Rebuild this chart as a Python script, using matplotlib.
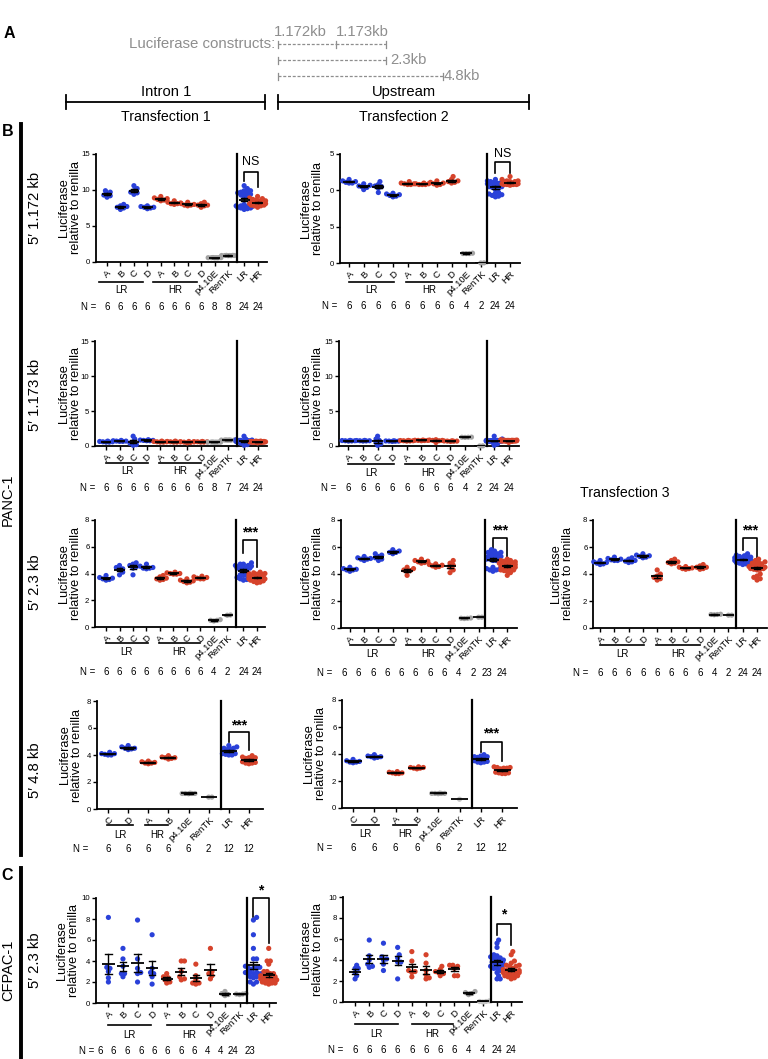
import numpy as np
import matplotlib
matplotlib.use("Agg")
import matplotlib.pyplot as plt
from matplotlib.lines import Line2D

plt.rcParams['font.family'] = ['Liberation Sans', 'DejaVu Sans']

# ------------------------------------------------------------------ data
cats12 = ['A', 'B', 'C', 'D', 'A', 'B', 'C', 'D', 'p4.10E', 'RenTK', 'LR', 'HR']
cats8 = ['C', 'D', 'A', 'B', 'p4.10E', 'RenTK', 'LR', 'HR']

# PANC-1 5' 1.172 kb, transfection 1
t1_1172_lr = [[9.9, 9.7, 9.5, 9.3, 9.2, 9.0], [8.0, 7.8, 7.7, 7.6, 7.5, 7.3],
              [10.6, 10.2, 9.9, 9.7, 9.6, 9.4], [7.8, 7.7, 7.6, 7.6, 7.5, 7.4]]
t1_1172_hr = [[9.1, 8.9, 8.8, 8.7, 8.6, 8.5], [8.5, 8.3, 8.2, 8.1, 8.1, 8.0],
              [8.3, 8.1, 8.0, 7.9, 7.9, 7.8], [8.3, 8.1, 7.9, 7.9, 7.8, 7.6]]
t1_1172_p4 = [0.62, 0.6, 0.6, 0.58, 0.6, 0.62, 0.58, 0.6]
t1_1172_ren = [0.92, 0.9, 0.88, 0.9, 0.9, 0.92, 0.88, 0.9]
t1_1172_n = ['6', '6', '6', '6', '6', '6', '6', '6', '8', '8', '24', '24']

# PANC-1 5' 1.172 kb, transfection 2
t2_1172_lr = [[11.5, 11.3, 11.2, 11.1, 11.0, 11.0], [10.9, 10.7, 10.6, 10.5, 10.4, 10.1],
              [11.2, 10.8, 10.6, 10.5, 10.3, 9.7], [9.6, 9.5, 9.4, 9.3, 9.2, 9.1]]
t2_1172_hr = [[11.2, 11.0, 10.9, 10.9, 10.8, 10.8], [11.0, 10.9, 10.9, 10.8, 10.8, 10.8],
              [11.3, 11.1, 11.0, 10.9, 10.8, 10.7], [11.9, 11.5, 11.3, 11.2, 11.1, 11.0]]
t2_1172_p4 = [1.35, 1.3, 1.3, 1.3]
t2_1172_ren = [0.02, 0.0]
t2_1172_n = ['6', '6', '6', '6', '6', '6', '6', '6', '4', '2', '24', '24']

# PANC-1 5' 1.173 kb, transfection 1
t1_1173_lr = [[0.7, 0.65, 0.6, 0.6, 0.55, 0.55], [0.8, 0.75, 0.7, 0.7, 0.65, 0.65],
              [1.4, 1.0, 0.6, 0.4, 0.2, 0.1], [0.9, 0.85, 0.8, 0.8, 0.75, 0.75]]
t1_1173_hr = [[0.7, 0.65, 0.6, 0.6, 0.55, 0.55], [0.7, 0.65, 0.6, 0.6, 0.55, 0.55],
              [0.65, 0.6, 0.6, 0.55, 0.5, 0.45], [0.65, 0.6, 0.6, 0.6, 0.55, 0.55]]
t1_1173_p4 = [0.57, 0.55, 0.55, 0.53, 0.55, 0.57, 0.53, 0.55]
t1_1173_ren = [0.87, 0.85, 0.85, 0.83, 0.85, 0.87, 0.83]
t1_1173_n = ['6', '6', '6', '6', '6', '6', '6', '6', '8', '7', '24', '24']

# PANC-1 5' 1.173 kb, transfection 2
t2_1173_lr = [[0.8, 0.78, 0.75, 0.75, 0.72, 0.7], [0.8, 0.78, 0.75, 0.75, 0.72, 0.7],
              [1.4, 1.0, 0.8, 0.5, 0.3, 0.1], [0.75, 0.72, 0.7, 0.7, 0.68, 0.65]]
t2_1173_hr = [[0.8, 0.78, 0.75, 0.75, 0.72, 0.7], [0.85, 0.82, 0.8, 0.8, 0.78, 0.75],
              [0.9, 0.85, 0.8, 0.8, 0.75, 0.5], [0.75, 0.72, 0.7, 0.7, 0.68, 0.65]]
t2_1173_p4 = [1.27, 1.25, 1.25, 1.23]
t2_1173_ren = [0.02, 0.0]
t2_1173_n = ['6', '6', '6', '6', '6', '6', '6', '6', '4', '2', '24', '24']

# PANC-1 5' 2.3 kb, transfection 1
t1_23_lr = [[3.85, 3.7, 3.65, 3.6, 3.55, 3.5], [4.6, 4.45, 4.35, 4.3, 4.1, 3.9],
            [4.8, 4.7, 4.6, 4.5, 4.4, 3.9], [4.7, 4.55, 4.45, 4.4, 4.4, 4.35]]
t1_23_hr = [[3.85, 3.75, 3.65, 3.6, 3.55, 3.5], [4.1, 4.05, 4.0, 4.0, 3.95, 3.95],
            [3.6, 3.5, 3.45, 3.4, 3.35, 3.3], [3.8, 3.75, 3.7, 3.65, 3.6, 3.6]]
t1_23_p4 = [0.55, 0.5, 0.45, 0.5]
t1_23_ren = [0.9, 0.88]
t1_23_n = ['6', '6', '6', '6', '6', '6', '6', '6', '4', '2', '24', '24']

# PANC-1 5' 2.3 kb, transfection 2
t2_23_lr = [[4.5, 4.4, 4.35, 4.3, 4.3, 4.2], [5.3, 5.2, 5.15, 5.1, 5.1, 5.0],
            [5.5, 5.4, 5.3, 5.2, 5.1, 5.0], [5.8, 5.7, 5.6, 5.6, 5.5]]
t2_23_hr = [[4.5, 4.4, 4.3, 4.25, 4.2, 3.9], [5.1, 5.0, 4.95, 4.9, 4.85, 4.8],
            [4.75, 4.7, 4.65, 4.6, 4.55, 4.5], [5.0, 4.8, 4.65, 4.5, 4.3, 4.1]]
t2_23_p4 = [0.74, 0.72, 0.72, 0.7]
t2_23_ren = [0.8, 0.8]
t2_23_n = ['6', '6', '6', '6', '6', '6', '6', '6', '4', '2', '23', '24']

# PANC-1 5' 2.3 kb, transfection 3
t3_23_lr = [[5.0, 4.9, 4.85, 4.8, 4.75, 4.7], [5.25, 5.15, 5.1, 5.05, 5.0, 5.0],
            [5.2, 5.1, 5.0, 4.95, 4.9, 4.85], [5.5, 5.4, 5.35, 5.3, 5.25, 5.2]]
t3_23_hr = [[4.3, 4.0, 3.85, 3.75, 3.65, 3.55], [5.1, 5.0, 4.9, 4.85, 4.8, 4.75],
            [4.55, 4.5, 4.45, 4.4, 4.4, 4.35], [4.7, 4.6, 4.5, 4.5, 4.4, 4.35]]
t3_23_p4 = [1.02, 1.0, 1.0, 0.98]
t3_23_ren = [0.95, 0.95]
t3_23_n = ['6', '6', '6', '6', '6', '6', '6', '6', '4', '2', '24', '24']

# PANC-1 5' 4.8 kb (LR: C, D; HR: A, B)
t1_48_lr = [[4.2, 4.1, 4.1, 4.05, 4.0, 4.0], [4.7, 4.6, 4.5, 4.5, 4.45, 4.4]]
t1_48_hr = [[3.55, 3.5, 3.45, 3.4, 3.4, 3.35], [3.95, 3.85, 3.8, 3.8, 3.75, 3.7]]
t1_48_p4 = [1.17, 1.15, 1.15, 1.13, 1.15, 1.15]
t1_48_ren = [0.88, 0.88]
t1_48_n = ['6', '6', '6', '6', '6', '2', '12', '12']

t2_48_lr = [[3.6, 3.5, 3.45, 3.4, 3.4, 3.35], [3.95, 3.85, 3.8, 3.8, 3.75, 3.7]]
t2_48_hr = [[2.7, 2.65, 2.6, 2.6, 2.55, 2.55], [3.05, 3.0, 3.0, 2.95, 2.95, 2.9]]
t2_48_p4 = [1.1, 1.08, 1.08, 1.06, 1.08, 1.08]
t2_48_ren = [0.65]
t2_48_n = ['6', '6', '6', '6', '6', '2', '12', '12']

# CFPAC-1 5' 2.3 kb
c1_lr = [[8.15, 3.4, 3.0, 2.4, 2.0, 3.3], [5.2, 4.2, 3.5, 2.8, 2.5, 2.8],
         [7.9, 4.2, 3.3, 2.9, 2.0, 2.8], [6.5, 3.3, 2.9, 2.5, 2.8, 1.8]]
c1_hr = [[2.8, 2.5, 2.2, 2.0, 1.9, 2.4], [4.0, 4.0, 3.0, 2.5, 2.3, 2.2],
         [3.7, 2.6, 2.2, 1.8, 1.9, 1.9], [5.2, 3.0, 2.8, 2.6, 2.3]]
c1_p4 = [1.1, 0.9, 0.8, 0.7]
c1_ren = [0.9, 0.85, 0.8, 0.85]
c1_n = ['6', '6', '6', '6', '6', '6', '6', '6', '4', '4', '24', '23']

c2_lr = [[3.5, 3.2, 2.8, 2.5, 2.2, 3.2], [5.9, 4.4, 4.0, 3.6, 3.3, 3.4],
         [5.6, 4.3, 4.1, 4.0, 3.6, 3.0], [5.2, 4.5, 4.2, 3.8, 2.2, 3.8]]
c2_hr = [[4.8, 3.9, 3.0, 2.8, 2.9, 2.4], [4.5, 3.7, 3.0, 2.6, 2.3, 2.2],
         [3.4, 3.1, 2.9, 2.8, 2.7, 2.5], [3.5, 3.5, 3.4, 3.2, 2.5, 2.5]]
c2_p4 = [1.0, 0.9, 0.8, 0.7]
c2_ren = [0.1, 0.05, 0.0, 0.05]
c2_n = ['6', '6', '6', '6', '6', '6', '6', '6', '4', '4', '24', '24']

# ------------------------------------------------------------------ figure
W, H, DPI = 768, 1059, 100
fig = plt.figure(figsize=(W / DPI, H / DPI), dpi=DPI)
BLUE = '#2a41d9'
RED = '#d6432b'
GREY = '#a3a3a3'
LGREY = '#c4c4c4'
TXTGREY = '#8e8e8e'

FS_TICK = 5.6
FS_CAT = 6.8
FS_N = 7.0
FS_GRP = 7.0
FS_YLAB = 9.2


def ftext(x, y, s, **kw):
    fig.text(x / W, 1 - y / H, s, **kw)


def fline(xs, ys, **kw):
    fig.add_artist(Line2D([x / W for x in xs], [1 - y / H for y in ys],
                          transform=fig.transFigure, **kw))


def swarm(vals, kx, ky, mind=3.2, maxw=8.0):
    order = np.argsort(vals)
    placed = []
    offs = np.zeros(len(vals))
    cands = [0.0]
    k = 1
    while k * 1.6 <= maxw:
        cands += [k * 1.6, -k * 1.6]
        k += 1
    for idx in order:
        y = vals[idx] * ky
        best, bestd = None, -1
        for c in cands:
            dmin = min([np.hypot(c - px, y - py) for px, py in placed] + [99])
            if dmin >= mind:
                best = c
                break
            if dmin > bestd:
                bestd, best = dmin, c
        placed.append((best, y))
        offs[idx] = best / kx
    return offs


def panel(box, ymax, yticks, ylabels, cats, pos, xlim, div, groups, colors, nlab,
          lines, dys, sig, cf=False, ylab=None, npos=None, neq=None):
    xl, xr, yb, yt = box
    ax = fig.add_axes([xl / W, 1 - yb / H, (xr - xl) / W, (yb - yt) / H])
    ax.patch.set_alpha(0)
    ax.set_xlim(*xlim)
    ax.set_ylim(0, ymax)
    for s in ['top', 'right']:
        ax.spines[s].set_visible(False)
    for s in ['left', 'bottom']:
        ax.spines[s].set_linewidth(1.3)
    ax.set_yticks(yticks)
    ax.set_yticklabels(ylabels, fontsize=FS_TICK)
    ax.tick_params(axis='y', length=3, width=1, pad=1)
    ax.set_xticks(pos)
    ax.set_xticklabels(cats, rotation=45, ha='right', va='top',
                       rotation_mode='anchor', fontsize=FS_CAT)
    ax.tick_params(axis='x', length=3, width=1, pad=1.5)
    kx = (xr - xl) / (xlim[1] - xlim[0])
    ky = (yb - yt) / ymax
    ah = yb - yt
    ax.plot([div, div], [0, ymax], color='k', lw=1.6, clip_on=False, zorder=5)
    hw = 0.42 if cf else 0.4
    for p, vals, col in zip(pos, groups, colors):
        v = np.array(vals, float)
        off = swarm(v, kx, ky, maxw=9.6 if cf else 8.0)
        ax.scatter(p + off, v, s=14, color=col, edgecolors='none', zorder=3,
                   clip_on=False)
        m = v.mean()
        se = v.std(ddof=1) / np.sqrt(len(v)) if len(v) > 1 else 0
        ax.plot([p - hw, p + hw], [m, m], color='k', lw=1.3, zorder=4,
                solid_capstyle='butt')
        if se > 0:
            cw = 0.22
            ax.plot([p, p], [m - se, m + se], color='k', lw=1.0, zorder=4)
            ax.plot([p - cw, p + cw], [m + se, m + se], color='k', lw=1.0, zorder=4)
            ax.plot([p - cw, p + cw], [m - se, m - se], color='k', lw=1.0, zorder=4)
    tr = ax.get_xaxis_transform()
    ldy, tdy, ndy = dys
    for (a, b), name in zip(lines, ['LR', 'HR']):
        ax.plot([a, b], [-ldy / ah, -ldy / ah], color='k', lw=1.2, transform=tr,
                clip_on=False)
        ax.text((a + b) / 2, -tdy / ah, name, transform=tr, ha='center',
                va='center', fontsize=FS_GRP)
    if npos is None:
        npos = pos
    for p, s in zip(npos, nlab):
        ax.text(p, -ndy / ah, s, transform=tr, ha='center', va='center', fontsize=FS_N)
    ax.text(npos[0] - 1.35 if neq is None else neq, -ndy / ah, 'N =',
            transform=tr, ha='center', va='center', fontsize=FS_N)
    if sig is not None:
        txt, ty, top, l1, l2 = sig
        a, b = pos[-2], pos[-1]
        ax.plot([a, a, b, b], [l1, top, top, l2], color='k', lw=1.2, clip_on=False)
        if txt == 'NS':
            ax.text((a + b) / 2, ty, txt, ha='center', va='center', fontsize=9,
                    clip_on=False)
        else:
            ax.text((a + b) / 2, ty, txt, ha='center', va='center', fontsize=10,
                    fontweight='bold', clip_on=False)
    if ylab is not None:
        ftext(ylab, (yb + yt) / 2, 'Luciferase\nrelative to renilla', rotation=90,
              ha='center', va='center', fontsize=FS_YLAB, multialignment='center',
              linespacing=1.1)
    return ax


col12 = [BLUE] * 4 + [RED] * 4 + [GREY, GREY, BLUE, RED]
col8 = [BLUE] * 2 + [RED] * 2 + [GREY, GREY, BLUE, RED]
pos12L = list(range(10)) + [10.2, 11.2]
pos12M = list(range(10)) + [10.0, 11.0]
pos8 = list(range(8))
lines12 = [(0.0, 3.1), (3.9, 7.0)]
lines8 = [(-0.03, 1.23), (1.86, 3.0)]


def grp(lr, hr, p4, ren):
    return lr + hr + [p4, ren, sum(lr, []), sum(hr, [])]


t15 = [0, 5, 10, 15]
t8 = [0, 2, 4, 6, 8]
t10 = [0, 2, 4, 6, 8, 10]

# Row 1
panel((96, 267, 262, 154), 15, t15, ['0', '5', '10', '15'], cats12, pos12L,
      (-0.82, 11.9), 9.66, grp(t1_1172_lr, t1_1172_hr, t1_1172_p4, t1_1172_ren),
      col12, t1_1172_n, [(-0.6, 2.7), (3.4, 6.7)], (20, 28, 45),
      ('NS', 13.9, 12.5, 11.3, 10.4), ylab=70)
panel((340, 520, 263, 154), 15, t15, ['0', '5', '0', '5'], cats12, pos12M,
      (-0.62, 11.68), 9.45, grp(t2_1172_lr, t2_1172_hr, t2_1172_p4, t2_1172_ren),
      col12, t2_1172_n, lines12, (19, 27, 43),
      ('NS', 15.0, 13.9, 12.4, 12.4), ylab=312)
# Row 2
panel((95, 267, 446, 341), 15, t15, ['0', '5', '10', '15'], cats12, pos12L,
      (-0.82, 11.9), 9.66, grp(t1_1173_lr, t1_1173_hr, t1_1173_p4, t1_1173_ren),
      col12, t1_1173_n, lines12, (17, 25, 42), None, ylab=70)
panel((339, 519, 446, 341), 15, t15, ['0', '5', '10', '15'], cats12, pos12M,
      (-0.65, 11.7), 9.5, grp(t2_1173_lr, t2_1173_hr, t2_1173_p4, t2_1173_ren),
      col12, t2_1173_n, lines12, (18, 27, 42), None, ylab=312)
# Row 3
panel((95, 265, 627, 520), 8, t8, ['0', '2', '4', '6', '8'], cats12, pos12L,
      (-0.82, 11.8), 9.66, grp(t1_23_lr, t1_23_hr, t1_23_p4, t1_23_ren),
      col12, t1_23_n, lines12, (16, 25, 45), ('***', 7.1, 6.5, 5.5, 4.5), ylab=70)
panel((341, 517, 628, 520), 8, t8, ['0', '2', '4', '6', '8'], cats12, pos12M,
      (-0.62, 11.68), 9.45, grp(t2_23_lr, t2_23_hr, t2_23_p4, t2_23_ren),
      col12, t2_23_n, lines12, (17, 26, 45), ('***', 7.2, 6.7, 5.8, 5.2), ylab=312,
      npos=[p - 0.4 for p in pos12M])
panel((593, 767, 628, 520), 8, t8, ['0', '2', '4', '6', '8'], cats12, pos12M,
      (-0.5, 11.7), 9.5, grp(t3_23_lr, t3_23_hr, t3_23_p4, t3_23_ren),
      col12, t3_23_n, lines12, (17, 26, 45), ('***', 7.2, 6.7, 5.8, 5.2), ylab=562)
# Row 4
panel((97, 263, 809, 701), 8, t8, ['0', '2', '4', '6', '8'], cats8, pos8,
      (-0.55, 7.7), 5.6, grp(t1_48_lr, t1_48_hr, t1_48_p4, t1_48_ren),
      col8, t1_48_n, lines8, (16, 26, 40), ('***', 6.2, 5.7, 4.95, 4.4), ylab=71)
panel((342, 517, 808, 700), 8, t8, ['0', '2', '4', '6', '8'], cats8, pos8,
      (-0.52, 7.7), 5.59, grp(t2_48_lr, t2_48_hr, t2_48_p4, t2_48_ren),
      col8[:5] + [LGREY] + col8[6:], t2_48_n, lines8, (17, 26, 40),
      ('***', 5.5, 4.9, 4.15, 3.5), ylab=315)
# Row C
panel((96, 276, 1003, 898), 10, t10, ['0', '2', '4', '6', '8', '10'], cats12,
      list(range(10)) + [9.95, 11.0], (-0.85, 11.5), 9.48,
      grp(c1_lr, c1_hr, c1_p4, c1_ren), col12, c1_n, [(0.0, 2.95), (4.0, 7.1)],
      (22, 32, 48), ('*', 10.7, 10.0, 8.2, 5.7), cf=True, ylab=68,
      npos=[-0.58, 0.32, 1.28, 2.24, 3.13, 4.02, 4.98, 5.88, 6.77, 7.66, 8.55, 9.72],
      neq=-1.5)
panel((343, 522, 1002, 897), 10, t10, ['0', '2', '4', '6', '8', '10'], cats12,
      pos12M, (-0.85, 11.76), 9.58,
      grp(c2_lr, c2_hr, c2_p4, c2_ren), col12[:9] + [LGREY] + col12[10:], c2_n,
      [(0.0, 3.0), (4.0, 6.9)], (22, 32, 48), ('*', 8.3, 7.4, 6.4, 5.4), cf=True,
      ylab=312)

# ------------------------------------------------------------------ panel A header
ftext(9, 34, 'A', fontsize=11.5, fontweight='bold', ha='center', va='center')
ftext(275, 44, 'Luciferase constructs:', fontsize=10.8, color=TXTGREY, ha='right',
      va='center')
dash = dict(color=TXTGREY, lw=0.9, linestyle=(0, (2.4, 1.4)))
tick = dict(color=TXTGREY, lw=0.9)
fline([278, 336], [44, 44], **dash)
fline([336, 386], [44, 44], **dash)
fline([278, 386], [60, 60], **dash)
fline([278, 443], [76, 76], **dash)
for x, y in [(278, 44), (336, 44), (386, 44), (278, 60), (386, 60), (278, 76), (443, 76)]:
    fline([x, x], [y - 3.5, y + 3.5], **tick)
ftext(300, 32, '1.172kb', fontsize=10.7, color=TXTGREY, ha='center', va='center')
ftext(362, 32, '1.173kb', fontsize=10.7, color=TXTGREY, ha='center', va='center')
ftext(390, 60, '2.3kb', fontsize=10.7, color=TXTGREY, ha='left', va='center')
ftext(444, 76, '4.8kb', fontsize=10.7, color=TXTGREY, ha='left', va='center')

ftext(166, 92, 'Intron 1', fontsize=10.6, ha='center', va='center')
ftext(166, 117, 'Transfection 1', fontsize=10.2, ha='center', va='center')
ftext(404, 92, 'Upstream', fontsize=10.6, ha='center', va='center')
ftext(404, 117, 'Transfection 2', fontsize=10.2, ha='center', va='center')
for x0, x1 in [(66, 265), (278, 529)]:
    fline([x0, x1], [102, 102], color='k', lw=1.3)
    fline([x0, x0], [95, 109], color='k', lw=1.3)
    fline([x1, x1], [95, 109], color='k', lw=1.3)
ftext(625, 493, 'Transfection 3', fontsize=10.2, ha='center', va='center')

# ------------------------------------------------------------------ left labels
ftext(8, 131, 'B', fontsize=11.5, fontweight='bold', ha='center', va='center')
ftext(7, 875, 'C', fontsize=11.5, fontweight='bold', ha='center', va='center')
fline([21, 21], [124, 855], color='k', lw=2.8)
fline([21, 21], [868, 1059], color='k', lw=2.8)
ftext(8, 500, 'PANC-1', fontsize=10.5, rotation=90, ha='center', va='center')
ftext(8, 970, 'CFPAC-1', fontsize=10.5, rotation=90, ha='center', va='center')
for y, s in [(208, '5′ 1.172 kb'), (395, '5′ 1.173 kb'), (582, '5′ 2.3 kb'),
             (770, '5′ 4.8 kb'), (960, '5′ 2.3 kb')]:
    ftext(35, y, s, fontsize=10.7, rotation=90, ha='center', va='center')

fig.savefig('out.png', dpi=DPI)
